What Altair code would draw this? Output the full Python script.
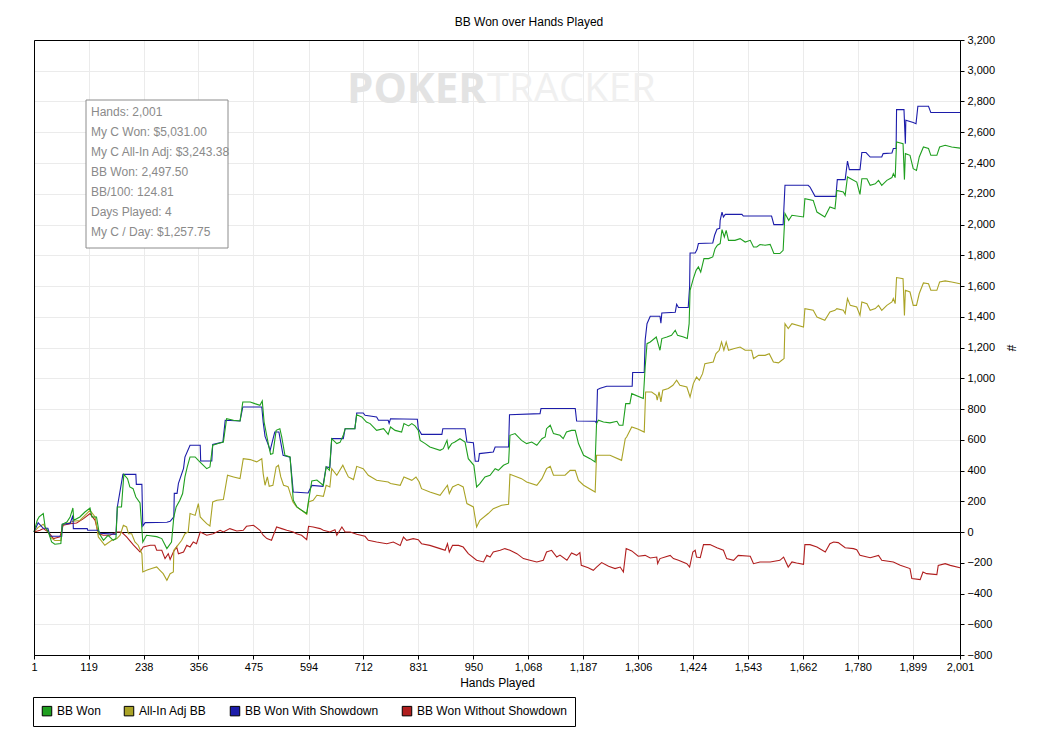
import altair as alt
import pandas as pd

title_text = "BB Won over Hands Played"
x_title = "Hands Played"
y_title = "#"
x_ticks = [1, 119, 238, 356, 475, 594, 712, 831, 950, 1068, 1187, 1306, 1424, 1543, 1662, 1780, 1899, 2001]
y_ticks = [-800, -600, -400, -200, 0, 200, 400, 600, 800, 1000, 1200, 1400, 1600, 1800, 2000,
           2200, 2400, 2600, 2800, 3000, 3200]
series_names = ["BB Won", "All-In Adj BB", "BB Won With Showdown", "BB Won Without Showdown"]
series_colors = ["#1f9f1f", "#aaa326", "#1c1caa", "#b01e1e"]
info_lines = ["Hands: 2,001", "My C Won: $5,031.00", "My C All-In Adj: $3,243.38", "BB Won: 2,497.50",
              "BB/100: 124.81", "Days Played: 4", "My C / Day: $1,257.75"]
watermark_parts = ["POKER", "TRACKER"]

# (hand, BB)
green_points = [(1,0),(8,76),(12,98),(21,120),(25,33),(32,0),(39,-65),(46,-80),(59,-75),(62,50),(72,65),(79,98),(85,156),(87,76),(100,98),(111,130),(122,156),(126,98),(136,98),(142,-10),(151,-54),(161,-22),(172,-54),(178,-43),(181,163),(190,163),(195,375),(203,347),(208,293),(215,282),(221,228),(230,189),(236,-65),(244,-21),(266,-30),(277,-43),(288,-108),(298,-65),(303,98),(308,163),(316,206),(322,250),(327,358),(332,423),(338,488),(349,488),(356,466),(363,445),(374,412),(381,423),(387,564),(399,575),(410,585),(417,737),(432,727),(446,722),(452,846),(468,846),(478,835),(489,824),(494,852),(498,715),(507,575),(512,505),(517,510),(524,661),(532,672),(536,618),(543,499),(554,488),(561,206),(569,163),(579,141),(590,120),(594,202),(601,332),(612,338),(626,303),(632,423),(639,401),(644,607),(655,575),(662,583),(669,629),(673,672),(694,672),(698,763),(709,748),(719,715),(727,705),(741,661),(756,672),(766,635),(771,683),(781,661),(795,650),(800,705),(810,690),(817,705),(824,690),(831,661),(835,596),(846,575),(856,553),(878,531),(885,542),(893,596),(896,542),(903,575),(910,585),(921,607),(932,585),(939,477),(951,434),(957,293),(964,315),(975,358),(986,369),(997,412),(1004,401),(1015,434),(1026,449),(1029,629),(1040,640),(1054,596),(1065,575),(1076,585),(1087,564),(1098,607),(1105,618),(1108,672),(1116,694),(1123,640),(1137,629),(1144,607),(1151,650),(1162,661),(1170,661),(1177,575),(1188,499),(1202,477),(1213,455),(1216,705),(1220,727),(1231,715),(1245,710),(1260,720),(1265,694),(1273,694),(1279,835),(1288,835),(1292,900),(1317,868),(1321,1073),(1325,1225),(1332,1236),(1345,1268),(1350,1214),(1353,1182),(1357,1258),(1368,1268),(1378,1279),(1386,1312),(1391,1279),(1404,1268),(1412,1258),(1416,1355),(1418,1572),(1425,1648),(1431,1702),(1436,1724),(1441,1691),(1448,1778),(1458,1778),(1467,1789),(1472,1843),(1477,1865),(1483,1876),(1487,1967),(1492,1919),(1496,1962),(1501,1897),(1515,1897),(1526,1908),(1537,1886),(1548,1897),(1555,1854),(1562,1854),(1569,1870),(1580,1865),(1591,1871),(1599,1811),(1612,1811),(1619,1832),(1623,2071),(1631,2027),(1638,2060),(1663,2049),(1666,2168),(1684,2157),(1692,2081),(1709,2049),(1720,2114),(1731,2103),(1735,2222),(1749,2211),(1753,2190),(1758,2309),(1778,2276),(1785,2196),(1789,2298),(1800,2298),(1807,2255),(1818,2265),(1825,2287),(1832,2255),(1843,2287),(1854,2305),(1857,2331),(1861,2305),(1864,2537),(1878,2526),(1881,2292),(1883,2461),(1893,2450),(1900,2363),(1907,2352),(1913,2439),(1922,2504),(1933,2494),(1938,2450),(1951,2450),(1957,2504),(1969,2515),(1983,2504),(2001,2497)]

yellow_points = [(1,0),(10,30),(21,50),(32,0),(39,-40),(46,-55),(59,-55),(62,45),(72,55),(86,70),(100,75),(111,108),(122,141),(133,98),(140,-32),(154,-86),(169,-54),(180,-43),(187,-21),(194,44),(201,33),(205,-11),(212,-11),(219,-65),(226,-86),(234,-141),(236,-260),(244,-249),(255,-238),(266,-227),(273,-249),(280,-271),(288,-314),(295,-271),(302,-260),(303,-119),(309,-97),(320,-54),(327,-11),(334,0),(338,120),(349,108),(356,185),(360,98),(367,76),(374,54),(381,39),(387,196),(396,206),(410,211),(419,369),(432,358),(446,347),(453,477),(468,471),(482,456),(493,477),(496,380),(500,304),(505,358),(509,297),(517,304),(524,423),(529,434),(534,358),(540,304),(547,297),(550,293),(560,196),(568,163),(579,141),(590,115),(594,196),(604,206),(612,239),(626,232),(632,304),(640,293),(644,412),(655,369),(668,434),(673,401),(680,358),(691,341),(698,427),(712,412),(723,369),(741,336),(766,325),(771,315),(792,304),(800,358),(817,336),(826,358),(833,325),(838,282),(856,260),(878,239),(894,304),(898,250),(905,293),(917,310),(928,293),(936,185),(950,163),(957,33),(964,76),(982,120),(993,152),(1011,174),(1026,180),(1029,375),(1054,347),(1065,325),(1087,304),(1098,347),(1108,412),(1116,427),(1123,369),(1148,369),(1159,401),(1170,401),(1177,336),(1188,304),(1213,260),(1216,499),(1245,499),(1270,466),(1278,607),(1281,618),(1292,683),(1305,670),(1319,650),(1322,911),(1335,911),(1345,889),(1347,857),(1351,911),(1355,846),(1359,922),(1371,933),(1381,954),(1389,987),(1396,954),(1411,943),(1418,878),(1425,965),(1432,1008),(1438,987),(1445,1030),(1450,1095),(1468,1106),(1474,1160),(1481,1182),(1486,1236),(1491,1182),(1496,1236),(1501,1182),(1512,1192),(1526,1203),(1537,1182),(1551,1182),(1555,1128),(1566,1149),(1580,1149),(1589,1160),(1598,1106),(1609,1100),(1616,1117),(1621,1128),(1623,1355),(1630,1323),(1638,1355),(1663,1333),(1666,1453),(1684,1442),(1692,1398),(1709,1377),(1720,1431),(1731,1442),(1735,1453),(1749,1442),(1753,1420),(1758,1518),(1764,1474),(1778,1463),(1785,1409),(1789,1496),(1800,1485),(1807,1442),(1818,1453),(1825,1474),(1832,1442),(1843,1474),(1854,1496),(1857,1518),(1861,1485),(1864,1655),(1878,1648),(1881,1409),(1883,1572),(1893,1561),(1900,1474),(1907,1474),(1913,1551),(1922,1620),(1933,1615),(1938,1572),(1951,1572),(1957,1626),(1969,1633),(1983,1626),(2001,1615)]

blue_points = [(1,0),(10,60),(21,24),(31,24),(36,-28),(61,-28),(62,50),(79,56),(85,108),(86,22),(116,22),(117,11),(139,11),(144,-8),(178,-15),(181,163),(193,375),(221,375),(222,310),(234,310),(236,39),(241,61),(288,63),(295,70),(303,98),(304,251),(310,251),(313,317),(324,414),(327,487),(338,564),(360,564),(361,462),(385,462),(387,570),(409,585),(414,727),(446,722),(452,813),(493,813),(496,715),(500,622),(506,575),(511,531),(521,650),(530,650),(539,499),(554,486),(561,260),(593,254),(601,303),(625,297),(632,423),(640,419),(644,607),(669,607),(673,672),(694,672),(698,774),(712,774),(716,759),(741,748),(745,727),(766,727),(768,707),(771,737),(829,733),(831,672),(838,635),(882,635),(884,672),(932,672),(936,585),(950,581),(954,460),(961,460),(963,510),(993,520),(997,553),(1026,553),(1028,763),(1094,770),(1096,803),(1170,803),(1173,722),(1213,720),(1216,707),(1218,926),(1224,935),(1238,948),(1293,948),(1294,1037),(1319,1037),(1321,1247),(1325,1355),(1332,1403),(1353,1403),(1355,1358),(1357,1425),(1386,1429),(1389,1481),(1393,1460),(1414,1460),(1417,1594),(1418,1815),(1429,1815),(1433,1837),(1436,1876),(1467,1880),(1471,1930),(1476,1969),(1482,1975),(1483,2027),(1487,2081),(1490,2049),(1494,2066),(1530,2066),(1533,2055),(1594,2055),(1599,1999),(1619,1999),(1623,2255),(1673,2255),(1677,2244),(1688,2183),(1733,2183),(1736,2292),(1753,2292),(1758,2413),(1762,2357),(1785,2357),(1789,2468),(1798,2468),(1807,2439),(1832,2439),(1835,2461),(1854,2465),(1857,2494),(1863,2494),(1864,2747),(1880,2747),(1883,2526),(1884,2678),(1900,2663),(1906,2656),(1910,2769),(1933,2769),(1938,2728),(2001,2728)]

red_points = [(1,0),(14,11),(21,22),(32,0),(43,-43),(57,-32),(64,44),(79,54),(93,59),(108,87),(122,120),(133,76),(140,-11),(151,-21),(165,-21),(180,0),(190,0),(201,-32),(216,-86),(230,-130),(237,-97),(252,-86),(262,-86),(266,-119),(277,-119),(284,-173),(291,-141),(295,-178),(302,-130),(309,-97),(313,-141),(324,-130),(331,-86),(338,-97),(345,-65),(352,-76),(360,0),(374,-21),(388,-11),(403,11),(410,0),(424,22),(439,7),(453,11),(460,37),(475,44),(489,11),(496,-21),(504,-43),(514,-54),(518,-21),(525,33),(536,22),(547,11),(561,0),(568,-11),(579,-21),(590,-50),(594,37),(604,33),(619,22),(626,11),(640,0),(651,15),(655,-21),(666,33),(673,0),(684,0),(698,-15),(716,-28),(723,-54),(741,-65),(763,-76),(777,-65),(792,-87),(799,-33),(806,-54),(820,-43),(831,-50),(838,-76),(856,-87),(878,-108),(889,-119),(894,-76),(898,-130),(905,-87),(918,-87),(928,-98),(939,-141),(957,-184),(972,-195),(979,-152),(986,-163),(993,-130),(1008,-119),(1018,-108),(1029,-119),(1044,-141),(1058,-173),(1072,-184),(1087,-195),(1101,-184),(1108,-130),(1119,-119),(1130,-163),(1137,-150),(1152,-184),(1162,-137),(1173,-152),(1180,-134),(1183,-217),(1198,-232),(1209,-249),(1216,-228),(1227,-199),(1242,-223),(1256,-238),(1267,-228),(1274,-260),(1280,-108),(1292,-123),(1306,-158),(1321,-152),(1332,-169),(1346,-163),(1348,-206),(1353,-173),(1375,-152),(1382,-173),(1393,-184),(1411,-206),(1417,-228),(1424,-130),(1429,-119),(1432,-163),(1440,-167),(1447,-82),(1461,-82),(1476,-102),(1490,-119),(1497,-173),(1512,-184),(1522,-152),(1548,-158),(1555,-206),(1569,-195),(1591,-195),(1612,-184),(1620,-163),(1630,-228),(1638,-195),(1648,-202),(1663,-210),(1666,-82),(1677,-82),(1692,-97),(1710,-130),(1720,-76),(1728,-65),(1738,-69),(1753,-102),(1771,-108),(1778,-115),(1785,-152),(1807,-167),(1825,-152),(1832,-184),(1857,-195),(1872,-217),(1893,-238),(1897,-303),(1915,-310),(1921,-260),(1929,-271),(1951,-277),(1954,-217),(1969,-206),(1980,-217),(2001,-232)]

all_points = [green_points, yellow_points, blue_points, red_points]
frames = []
for name, pts in zip(series_names, all_points):
    d = pd.DataFrame(pts, columns=["hand", "bb"])
    d["series"] = name
    d["seq"] = range(len(d))
    frames.append(d)
df = pd.concat(frames, ignore_index=True)

FONT = "Liberation Sans"
W, H = 926, 615

x_enc = alt.X("hand:Q", scale=alt.Scale(domain=[1, 2001], nice=False, zero=False),
              axis=alt.Axis(values=x_ticks, format=",d", title=x_title, labelFlush=False,
                            labelOverlap=False, tickSize=4, labelPadding=2, titlePadding=5))
y_enc = alt.Y("bb:Q", scale=alt.Scale(domain=[-800, 3200], nice=False, zero=False),
              axis=alt.Axis(orient="right", values=y_ticks, format=",d", title=y_title,
                            labelFlush=False, labelOverlap=False, tickSize=4, labelPadding=3,
                            titlePadding=9, labelAlign="left"))
fill_scale = alt.Scale(domain=series_names, range=series_colors)

wm1 = alt.Chart(pd.DataFrame({"t": [watermark_parts[0]]})).mark_text(
    align="right", baseline="middle", font="Open Sans", fontWeight="bold", fontSize=42, color="#e3e3e3"
).encode(text="t:N", x=alt.value(452), y=alt.value(50))
wm2 = alt.Chart(pd.DataFrame({"t": [watermark_parts[1]]})).mark_text(
    align="left", baseline="middle", font="Open Sans", fontWeight="normal", fontSize=40, color="#f0f0f0"
).encode(text="t:N", x=alt.value(453), y=alt.value(50))

zero_rule = alt.Chart(pd.DataFrame({"bb": [0]})).mark_rule(
    color="black", strokeWidth=1, yOffset=0.5
).encode(y=y_enc)

draw_order = ["BB Won Without Showdown", "All-In Adj BB", "BB Won With Showdown", "BB Won"]
line_layers = []
for name in draw_order:
    col = series_colors[series_names.index(name)]
    line_layers.append(
        alt.Chart(df).transform_filter(alt.datum.series == name).mark_line(
            strokeWidth=1.1, color=col
        ).encode(x=x_enc, y=y_enc, order="seq:Q")
    )

legend_layer = alt.Chart(df).transform_filter("datum.hand < 0").mark_square(
    filled=True, stroke="black", strokeWidth=1, size=90, opacity=1
).encode(
    x=x_enc, y=y_enc,
    fill=alt.Fill("series:N", scale=fill_scale, legend=alt.Legend(
        orient="none", legendX=-1, legendY=657, direction="horizontal", title=None,
        symbolType="square", symbolSize=90, symbolStrokeColor="black", symbolStrokeWidth=1,
        symbolOpacity=1, labelFont=FONT, labelFontSize=12, labelColor="black", labelOffset=4,
        columnPadding=21, padding=8, strokeColor="black", fillColor="white",
    )),
)

info_box = alt.Chart(pd.DataFrame({"a": [0]})).mark_rect(
    fill="white", stroke="#8c8c8c", strokeWidth=1
).encode(x=alt.value(52), x2=alt.value(194), y=alt.value(60), y2=alt.value(208))
info_text = alt.Chart(pd.DataFrame({"t": ["\n".join(info_lines)]})).mark_text(
    align="left", baseline="middle", lineBreak="\n", lineHeight=20, font=FONT, fontSize=12, color="#8a8a8a"
).encode(x=alt.value(57), y=alt.value(72), text="t:N")

frame = alt.Chart(pd.DataFrame({"a": [0]})).mark_rect(
    fillOpacity=0, stroke="black", strokeWidth=1
).encode(x=alt.value(0.5), x2=alt.value(W + 0.5), y=alt.value(0.5), y2=alt.value(H + 0.5))

chart = alt.layer(wm1, wm2, zero_rule, *line_layers, legend_layer, info_box, info_text, frame).properties(
    width=W, height=H,
    title=alt.TitleParams(title_text, anchor="middle", frame="group", dx=32, offset=5,
                          font=FONT, fontSize=12, fontWeight="normal", color="black"),
    autosize=alt.AutoSizeParams(type="none"),
    padding={"left": 26, "top": 32, "right": 81, "bottom": 82},
    background="white",
).configure_view(stroke="black", strokeWidth=1).configure_axis(
    gridColor="#ebebeb", gridWidth=1, domainColor="black", tickColor="black",
    labelColor="black", titleColor="black", labelFont=FONT, titleFont=FONT,
    labelFontSize=11, titleFontSize=12, titleFontWeight="normal",
)

chart.save("out.html", embed_options={"renderer": "svg", "actions": False})
